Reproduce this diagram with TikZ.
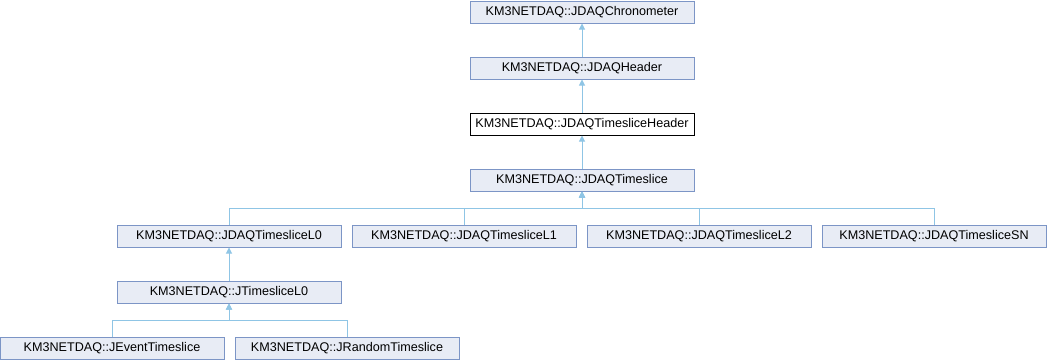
\documentclass[tikz,border=0pt]{standalone}
\usepackage{fontspec}
\setmainfont{Liberation Sans}
\usetikzlibrary{arrows.meta,positioning,calc}
\definecolor{clsfill}{RGB}{232,236,245}
\definecolor{clsdraw}{RGB}{124,149,198}
\definecolor{inhline}{RGB}{143,197,229}

\begin{document}
\begin{tikzpicture}[x=1pt,y=-1pt,
  cls/.style={draw=clsdraw,fill=clsfill,line width=1pt,minimum width=224pt,minimum height=22pt,inner sep=0pt,font=\fontsize{12.6}{15}\selectfont},
  cur/.style={cls,draw=black,fill=white},
  inh/.style={draw=inhline,line width=1pt,-{Triangle[length=6pt,width=6pt]}}]
\useasboundingbox (0,0) rectangle (1047,360);
% chain at the top
\node[cls] (chrono) at (582,12) {KM3NETDAQ::JDAQChronometer};
\node[cls] (header) at (582,68) {KM3NETDAQ::JDAQHeader};
\node[cur] (tshead) at (582,124) {KM3NETDAQ::JDAQTimesliceHeader};
\node[cls] (ts) at (582,180) {KM3NETDAQ::JDAQTimeslice};
% derived timeslices
\node[cls] (tsl0) at (229,236) {KM3NETDAQ::JDAQTimesliceL0};
\node[cls] (tsl1) at (464,236) {KM3NETDAQ::JDAQTimesliceL1};
\node[cls] (tsl2) at (699,236) {KM3NETDAQ::JDAQTimesliceL2};
\node[cls] (tssn) at (934,236) {KM3NETDAQ::JDAQTimesliceSN};
\node[cls] (jl0) at (229,292) {KM3NETDAQ::JTimesliceL0};
\node[cls] (jevt) at (112,348) {KM3NETDAQ::JEventTimeslice};
\node[cls] (jrnd) at (347,348) {KM3NETDAQ::JRandomTimeslice};
% inheritance
\draw[inh] (header.north) -- (chrono.south);
\draw[inh] (tshead.north) -- (header.south);
\draw[inh] (ts.north) -- (tshead.south);
\coordinate (tsbus) at ($(ts.south)+(0,17)$);
\foreach \c in {tsl0,tsl1,tsl2,tssn}{
  \draw[inh] (\c.north) |- (tsbus) -- (ts.south);
}
\draw[inh] (jl0.north) -- (tsl0.south);
\coordinate (jl0bus) at ($(jl0.south)+(0,17)$);
\foreach \c in {jevt,jrnd}{
  \draw[inh] (\c.north) |- (jl0bus) -- (jl0.south);
}
\end{tikzpicture}
\end{document}
